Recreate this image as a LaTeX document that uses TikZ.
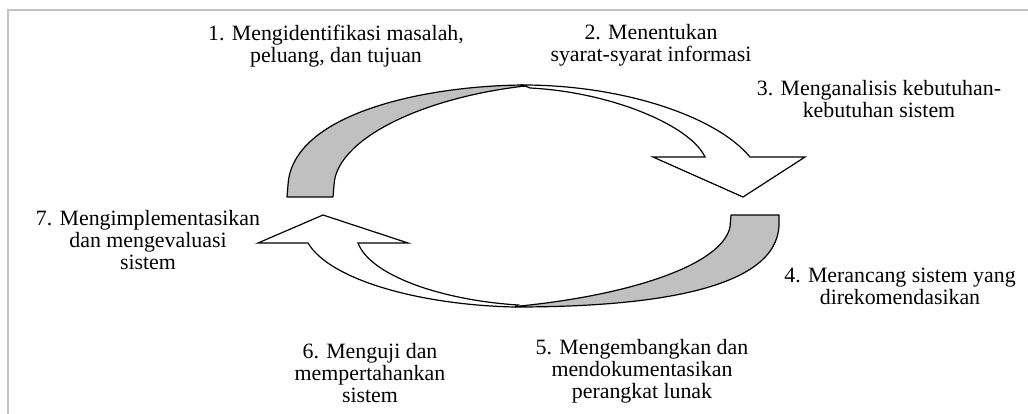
\documentclass[tikz,border=0pt]{standalone}
\usepackage{fontspec}
\setmainfont{Liberation Serif}
\definecolor{shade}{RGB}{192,192,192}
\definecolor{framegray}{RGB}{195,195,195}
\begin{document}
\begin{tikzpicture}[x=0.75pt,y=-0.75pt,
  lbl/.style={align=center,inner sep=0pt,font=\fontsize{16.4}{16.5}\selectfont,anchor=base},
  back/.style={fill=shade,draw=black,line width=0.9pt,line join=round},
  front/.style={fill=white,draw=black,line width=0.9pt,line join=miter}]
\useasboundingbox (0,0) rectangle (1028,414);
\draw[framegray,line width=1.5pt] (8,414) -- (8,10) -- (1028,10);
% upper curved arrow
\path[back] (287,197) -- (288,185) .. controls (292,115) and (420,86) .. (523,85)
  -- (525,86) .. controls (420,98) and (336,140) .. (334,185) -- (333,197) -- cycle;
\path[front] (523,85) .. controls (620,85) and (715,115) .. (750,157) -- (805,157)
  -- (743,197) -- (653,157) -- (705,157) .. controls (690,125) and (610,92) .. (530,88) -- cycle;
% lower curved arrow
\path[back] (731,215) -- (779,215) -- (779,225) .. controls (777,290) and (650,307) .. (515,307)
  -- (520,306) .. controls (630,295) and (722,265) .. (730,227) -- cycle;
\path[front] (515,307) .. controls (420,305) and (330,280) .. (308,243) -- (258,243)
  -- (323,215) -- (408,243) -- (358,243) .. controls (370,275) and (440,300) .. (518,305) -- cycle;
% labels (anchored at the baseline of the last line)
\node[lbl] (s1) at (336,62) {1. Mengidentifikasi masalah,\\peluang, dan tujuan};
\node[lbl] (s2) at (651,61) {2. Menentukan\\syarat-syarat informasi};
\node[lbl] (s3) at (879,117) {3. Menganalisis kebutuhan-\\kebutuhan sistem};
\node[lbl] (s4) at (900,304) {4. Merancang sistem yang\\direkomendasikan};
\node[lbl] (s5) at (642,398) {5. Mengembangkan dan\\mendokumentasikan\\perangkat lunak};
\node[lbl] (s6) at (370,402) {6. Menguji dan\\mempertahankan\\sistem};
\node[lbl] (s7) at (148,269) {7. Mengimplementasikan\\dan mengevaluasi\\sistem};
\end{tikzpicture}
\end{document}
